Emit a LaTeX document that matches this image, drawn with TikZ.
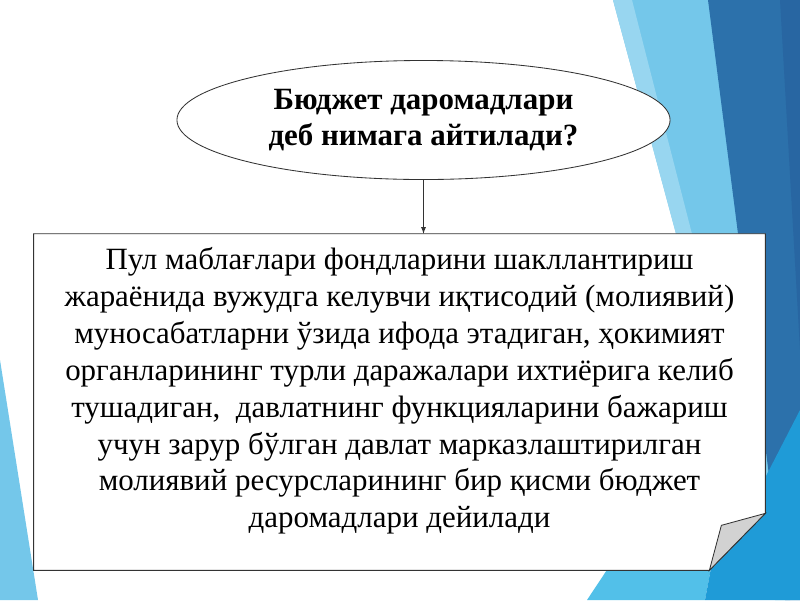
\documentclass[tikz,border=0pt]{standalone}
\usepackage{fontspec}
\setmainfont{Liberation Serif}
\usetikzlibrary{calc,positioning,shapes.geometric,arrows}

\definecolor{skyblue}{HTML}{74C7EA}
\definecolor{paleblue}{HTML}{98D6F0}
\definecolor{deepblue}{HTML}{2C71AB}
\definecolor{darkerblue}{HTML}{2866A2}
\definecolor{brightblue}{HTML}{1F9BD7}
\definecolor{lightbright}{HTML}{52C0E9}

\tikzset{
  question/.style={ellipse, draw=black!80, line width=0.6pt, fill=white,
    minimum width=12.325cm, minimum height=2.975cm, inner sep=0pt,
    font=\fontsize{22}{25.6}\selectfont\bfseries, align=center},
  frame/.style={draw=black!80, line width=0.6pt, fill=white},
  bodytext/.style={font=\fontsize{22}{26.2}\selectfont, align=center, inner sep=0pt},
  fold/.style={draw=black!80, line width=0.6pt, fill=gray!35}
}

\begin{document}
\begin{tikzpicture}[x=0.025cm,y=-0.025cm]
\useasboundingbox (0,0) rectangle (800,600);
\fill[white] (0,0) rectangle (800,600);

% background stripes
\fill[skyblue] (0,360) -- (38,600) -- (0,600) -- cycle;
\fill[skyblue] (613,0) -- (710,0) -- (790,600) -- (775,600) -- cycle;
\fill[paleblue] (613,0) -- (632,0) -- (692,234) -- (676,234) -- cycle;
\fill[deepblue] (708,0) -- (800,0) -- (800,600) -- (785,600) -- cycle;
\fill[darkerblue] (780,0) -- (800,0) -- (800,350) -- cycle;
\fill[lightbright] (587,600) -- (640,520) -- (720,520) -- (705,600) -- cycle;
\fill[brightblue] (705,600) -- (720,520) -- (765,478) -- (800,410) -- (800,600) -- cycle;

% question
\node[question] (q) at (423.5,120) {Бюджет даромадлари\\деб нимага айтилади?};

% answer box with folded corner
\node[minimum width=18.275cm, minimum height=8.4cm, inner sep=0pt] (box) at (399.5,402) {};
\draw[frame] (box.north west) -- (box.north east) -- ($(box.south east)+(0,-57)$)
  -- ($(box.south east)+(-56,0)$) -- (box.south west) -- cycle;
\draw[fold] ($(box.south east)+(0,-57)$) -- ($(box.south east)+(-44,-45)$)
  -- ($(box.south east)+(-56,0)$) -- cycle;
\node[bodytext] (def) at ($(box.center)+(0,-11)$) {Пул маблағлари фондларини шакллантириш\\
жараёнида вужудга келувчи иқтисодий (молиявий)\\
муносабатларни ўзида ифода этадиган, ҳокимият\\
органларининг турли даражалари ихтиёрига келиб\\
тушадиган, \ давлатнинг функцияларини бажариш\\
учун зарур бўлган давлат марказлаштирилган\\
молиявий ресурсларининг бир қисми бюджет\\
даромадлари дейилади};

\draw[-latex, black!80, line width=0.6pt] (q.south) -- (q.south |- box.north);

\end{tikzpicture}
\end{document}
